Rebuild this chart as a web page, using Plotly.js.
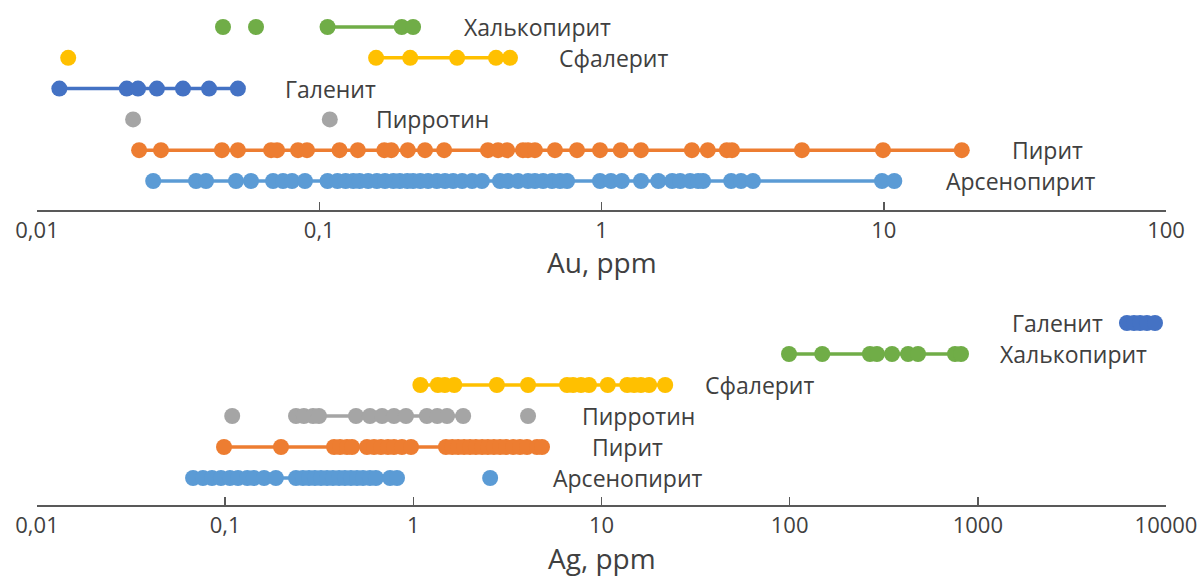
<!DOCTYPE html>
<html>
<head>
<meta charset="utf-8">
<script src="https://cdn.plot.ly/plotly-3.0.1.min.js"></script>
<style>html,body{margin:0;padding:0;background:#fff;}#chart{width:1202px;height:579px;}</style>
</head>
<body>
<div id="chart"></div>
<script>
// ---------- Au, ppm (top panel) ----------
const auRows = ['Арсенопирит', 'Пирит', 'Пирротин', 'Галенит', 'Сфалерит', 'Халькопирит'];
// connected points (drawn with a line) and separate points (markers only)
const auArsenopyriteLine = [0.0258, 0.0366, 0.0397, 0.0507, 0.0573, 0.0686, 0.0744, 0.0801, 0.089, 0.107, 0.116, 0.124, 0.132, 0.139, 0.149, 0.160, 0.171, 0.183, 0.193, 0.205, 0.215, 0.228, 0.243, 0.261, 0.279, 0.298, 0.321, 0.348, 0.377, 0.437, 0.466, 0.506, 0.549, 0.581, 0.621, 0.668, 0.713, 0.755, 0.988, 1.08, 1.18, 1.38, 1.59, 1.78, 1.90, 2.06, 2.20, 2.29, 2.88, 3.12, 3.44, 9.86, 10.9];
const auArsenopyriteDots = [];
const auPyriteLine = [0.0230, 0.0275, 0.0452, 0.0515, 0.0675, 0.0709, 0.0841, 0.0905, 0.118, 0.137, 0.170, 0.180, 0.206, 0.237, 0.277, 0.396, 0.430, 0.463, 0.527, 0.549, 0.581, 0.684, 0.819, 0.988, 1.17, 1.38, 2.09, 2.38, 2.78, 2.90, 5.13, 9.94, 18.9];
const auPyriteDots = [];
const auPyrrhotiteLine = [];
const auPyrrhotiteDots = [0.0219, 0.109];
const auGalenaLine = [0.0120, 0.0208, 0.0228, 0.0266, 0.0329, 0.0407, 0.0515];
const auGalenaDots = [];
const auSphaleriteLine = [0.159, 0.210, 0.308, 0.423, 0.474];
const auSphaleriteDots = [0.0129];
const auChalcopyriteLine = [0.107, 0.196, 0.215];
const auChalcopyriteDots = [0.0456, 0.0597];

// ---------- Ag, ppm (bottom panel) ----------
const agRows = ['Арсенопирит', 'Пирит', 'Пирротин', 'Сфалерит', 'Халькопирит', 'Галенит'];
const agArsenopyriteLine = [0.0675, 0.0762, 0.0851, 0.0950, 0.106, 0.117, 0.131, 0.142, 0.161, 0.186, 0.238, 0.259, 0.279, 0.300, 0.323, 0.348, 0.374, 0.403, 0.433, 0.466, 0.502, 0.540, 0.588, 0.633, 0.752, 0.819];
const agArsenopyriteDots = [2.56];
const agPyriteLine = [0.0986, 0.198, 0.379, 0.408, 0.444, 0.472, 0.567, 0.618, 0.673, 0.733, 0.789, 0.870, 0.972, 1.49, 1.61, 1.73, 1.86, 2.00, 2.15, 2.32, 2.49, 2.68, 2.89, 3.11, 3.39, 3.69, 4.02, 4.54, 4.83];
const agPyriteDots = [];
const agPyrrhotiteLine = [0.238, 0.262, 0.293, 0.315, 0.496, 0.588, 0.682, 0.789, 0.914, 1.18, 1.34, 1.51, 1.84];
const agPyrrhotiteDots = [0.109, 4.07];
const agSphaleriteLine = [1.09, 1.35, 1.47, 1.65, 2.78, 4.07, 6.56, 7.06, 7.78, 8.58, 10.8, 13.7, 14.9, 16.2, 17.9, 21.8];
const agSphaleriteDots = [];
const agChalcopyriteLine = [99.2, 149, 267, 291, 350, 426, 481, 756, 814];
const agChalcopyriteDots = [];
const agGalenaLine = [6200, 6760, 7280, 7920, 8740];
const agGalenaDots = [];

const auTickVals = [0.01, 0.1, 1, 10, 100];
const auTickText = ['0,01', '0,1', '1', '10', '100'];
const agTickVals = [0.01, 0.1, 1, 10, 100, 1000, 10000];
const agTickText = ['0,01', '0,1', '1', '10', '100', '1000', '10000'];

const colors = {
  'Арсенопирит': '#5B9BD5',
  'Пирит': '#ED7D31',
  'Пирротин': '#A5A5A5',
  'Галенит': '#4472C4',
  'Сфалерит': '#FFC000',
  'Халькопирит': '#70AD47'
};

const traces = [];
function addRow(rows, name, lineVals, dotVals, xa, ya) {
  const yv = rows.indexOf(name) + 1;
  const c = colors[name];
  if (lineVals.length) {
    traces.push({
      type: 'scatter', mode: 'lines+markers', x: lineVals, y: lineVals.map(() => yv),
      xaxis: xa, yaxis: ya, line: {color: c, width: 3.5},
      marker: {color: c, size: 16}, showlegend: false, hoverinfo: 'x', name: name
    });
  }
  if (dotVals.length) {
    traces.push({
      type: 'scatter', mode: 'markers', x: dotVals, y: dotVals.map(() => yv),
      xaxis: xa, yaxis: ya, marker: {color: c, size: 16}, showlegend: false, hoverinfo: 'x', name: name
    });
  }
}
addRow(auRows, 'Арсенопирит', auArsenopyriteLine, auArsenopyriteDots, 'x', 'y');
addRow(auRows, 'Пирит', auPyriteLine, auPyriteDots, 'x', 'y');
addRow(auRows, 'Пирротин', auPyrrhotiteLine, auPyrrhotiteDots, 'x', 'y');
addRow(auRows, 'Галенит', auGalenaLine, auGalenaDots, 'x', 'y');
addRow(auRows, 'Сфалерит', auSphaleriteLine, auSphaleriteDots, 'x', 'y');
addRow(auRows, 'Халькопирит', auChalcopyriteLine, auChalcopyriteDots, 'x', 'y');

addRow(agRows, 'Арсенопирит', agArsenopyriteLine, agArsenopyriteDots, 'x2', 'y2');
addRow(agRows, 'Пирит', agPyriteLine, agPyriteDots, 'x2', 'y2');
addRow(agRows, 'Пирротин', agPyrrhotiteLine, agPyrrhotiteDots, 'x2', 'y2');
addRow(agRows, 'Сфалерит', agSphaleriteLine, agSphaleriteDots, 'x2', 'y2');
addRow(agRows, 'Халькопирит', agChalcopyriteLine, agChalcopyriteDots, 'x2', 'y2');
addRow(agRows, 'Галенит', agGalenaLine, agGalenaDots, 'x2', 'y2');

const FONT = 'Open Sans, Noto Sans, DejaVu Sans, sans-serif';
const TXT = '#404040';
const AXC = '#595959';

function xAxis(range, tv, tt, anchor) {
  return {
    type: 'log', range: range, anchor: anchor, domain: [0, 1],
    showline: true, linecolor: AXC, linewidth: 1.5,
    ticks: 'inside', ticklen: 8, tickwidth: 1.5, tickcolor: AXC,
    tickvals: tv, ticktext: tt, showgrid: false, zeroline: false,
    tickfont: {family: FONT, size: 22, color: TXT}, ticklabelstandoff: 0
  };
}

// row label annotations (paper x, data y)
const labels = [
  // top panel
  {t: 'Халькопирит', x: 0.3764, y: 6, ya: 'y'},
  {t: 'Сфалерит', x: 0.4606, y: 5, ya: 'y'},
  {t: 'Галенит', x: 0.2179, y: 4, ya: 'y'},
  {t: 'Пирротин', x: 0.2985, y: 3, ya: 'y'},
  {t: 'Пирит', x: 0.8618, y: 2, ya: 'y'},
  {t: 'Арсенопирит', x: 0.8034, y: 1, ya: 'y'},
  // bottom panel
  {t: 'Галенит', x: 0.8618, y: 6, ya: 'y2'},
  {t: 'Халькопирит', x: 0.8512, y: 5, ya: 'y2'},
  {t: 'Сфалерит', x: 0.5899, y: 4, ya: 'y2'},
  {t: 'Пирротин', x: 0.4810, y: 3, ya: 'y2'},
  {t: 'Пирит', x: 0.4898, y: 2, ya: 'y2'},
  {t: 'Арсенопирит', x: 0.4553, y: 1, ya: 'y2'}
];
const annotations = labels.map(l => ({
  text: l.t, xref: 'paper', yref: l.ya, x: l.x, y: l.y, xanchor: 'left', yanchor: 'middle',
  showarrow: false, font: {family: FONT, size: 23, color: TXT}
}));
annotations.push({text: 'Au, ppm', xref: 'paper', yref: 'paper', x: 0.5, y: 0.486, xanchor: 'center', yanchor: 'middle',
  showarrow: false, font: {family: FONT, size: 28, color: TXT}});
annotations.push({text: 'Ag, ppm', xref: 'paper', yref: 'paper', x: 0.5, y: -0.106, xanchor: 'center', yanchor: 'middle',
  showarrow: false, font: {family: FONT, size: 28, color: TXT}});

const layout = {
  width: 1202, height: 579,
  margin: {l: 37, r: 36, t: 5, b: 74},
  paper_bgcolor: '#ffffff', plot_bgcolor: '#ffffff',
  showlegend: false,
  xaxis: xAxis([-2, 2], auTickVals, auTickText, 'y'),
  yaxis: {domain: [0.59, 1], range: [0.058, 6.714], visible: false, fixedrange: true},
  xaxis2: xAxis([-2, 4], agTickVals, agTickText, 'y2'),
  yaxis2: {domain: [0, 0.43], range: [0.129, 7.065], visible: false, fixedrange: true},
  annotations: annotations
};

Plotly.newPlot('chart', traces, layout, {displayModeBar: false, staticPlot: true});
</script>
</body>
</html>
